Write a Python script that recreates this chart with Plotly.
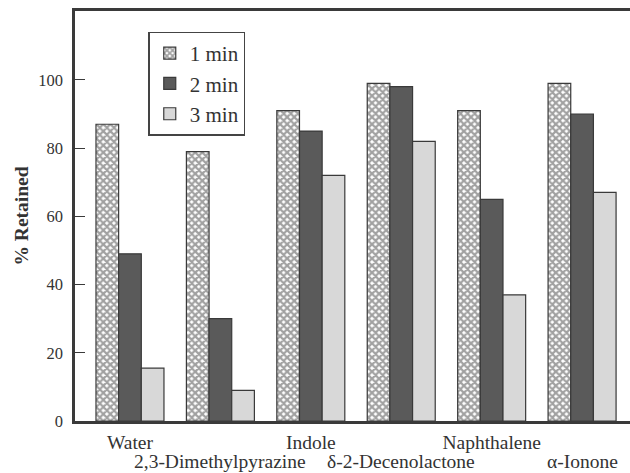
import plotly.graph_objects as go

categories = ["Water", "2,3-Dimethylpyrazine", "Indole", "δ-2-Decenolactone", "Naphthalene", "α-Ionone"]
min1 = [87, 79, 91, 99, 91, 99]
min2 = [49, 30, 85, 98, 65, 90]
min3 = [15.5, 9, 72, 82, 37, 67]
series_names = ["1 min", "2 min", "3 min"]
y_ticks = [0, 20, 40, 60, 80, 100]

# even categories on the first tick row, odd ones on a second row (annotations)
tick_text = [c if i % 2 == 0 else "" for i, c in enumerate(categories)]

line_col = "#3a3a3a"
font_family = "Liberation Serif, Times New Roman, serif"
fig = go.Figure()
fig.add_trace(go.Bar(
    x=categories, y=min1, name=series_names[0],
    marker=dict(color="white", line=dict(color=line_col, width=1.2),
                pattern=dict(shape="x", fgcolor="#444444", bgcolor="white", size=5, solidity=0.7)),
))
fig.add_trace(go.Bar(
    x=categories, y=min2, name=series_names[1],
    marker=dict(color="#5a5a5a", line=dict(color=line_col, width=1.2)),
))
fig.add_trace(go.Bar(
    x=categories, y=min3, name=series_names[2],
    marker=dict(color="#d8d8d8", line=dict(color=line_col, width=1.2)),
))

for i, c in enumerate(categories):
    if i % 2 == 1:
        fig.add_annotation(x=c, xref="x", y=0, yref="paper", yanchor="top",
                           yshift=-28, text=c, showarrow=False,
                           font=dict(size=19.5, family=font_family, color="#333333"))

fig.update_layout(
    width=630, height=473,
    margin=dict(l=75, r=0, t=11, b=52, autoexpand=False),
    paper_bgcolor="white", plot_bgcolor="white",
    barmode="group", bargap=0.248, bargroupgap=0,
    font=dict(family=font_family, color="#333333", size=15),
    showlegend=True,
    legend=dict(x=0.132, y=0.95, xanchor="left", yanchor="top",
                bordercolor="#444444", borderwidth=1.5, bgcolor="white",
                font=dict(size=21, family=font_family, color="#333333"),
                tracegroupgap=0, itemwidth=30),
    xaxis=dict(
        tickmode="array", tickvals=categories, ticktext=tick_text, tickangle=0,
        automargin=False, ticklabelstandoff=2,
        range=[-0.608, 5.53], showline=True, linecolor="#3a3a3a", linewidth=2.5,
        mirror=True, ticks="", tickfont=dict(size=19.5, family=font_family, color="#333333"),
        showgrid=False, zeroline=False,
    ),
    yaxis=dict(
        range=[0, 120.2], tickvals=y_ticks, showline=True, linecolor="#3a3a3a", linewidth=2.5,
        ticks="inside", ticklen=10, tickwidth=1.2, tickcolor="#3a3a3a", automargin=False,
        ticklabelstandoff=6,
        tickfont=dict(size=16.5, family=font_family, color="#333333"),
        showgrid=False, zeroline=False,
        title=dict(text="<b>% Retained</b>", font=dict(size=19.5, family=font_family, color="#333333"), standoff=5),
    ),
)
fig.write_html("out.html")
